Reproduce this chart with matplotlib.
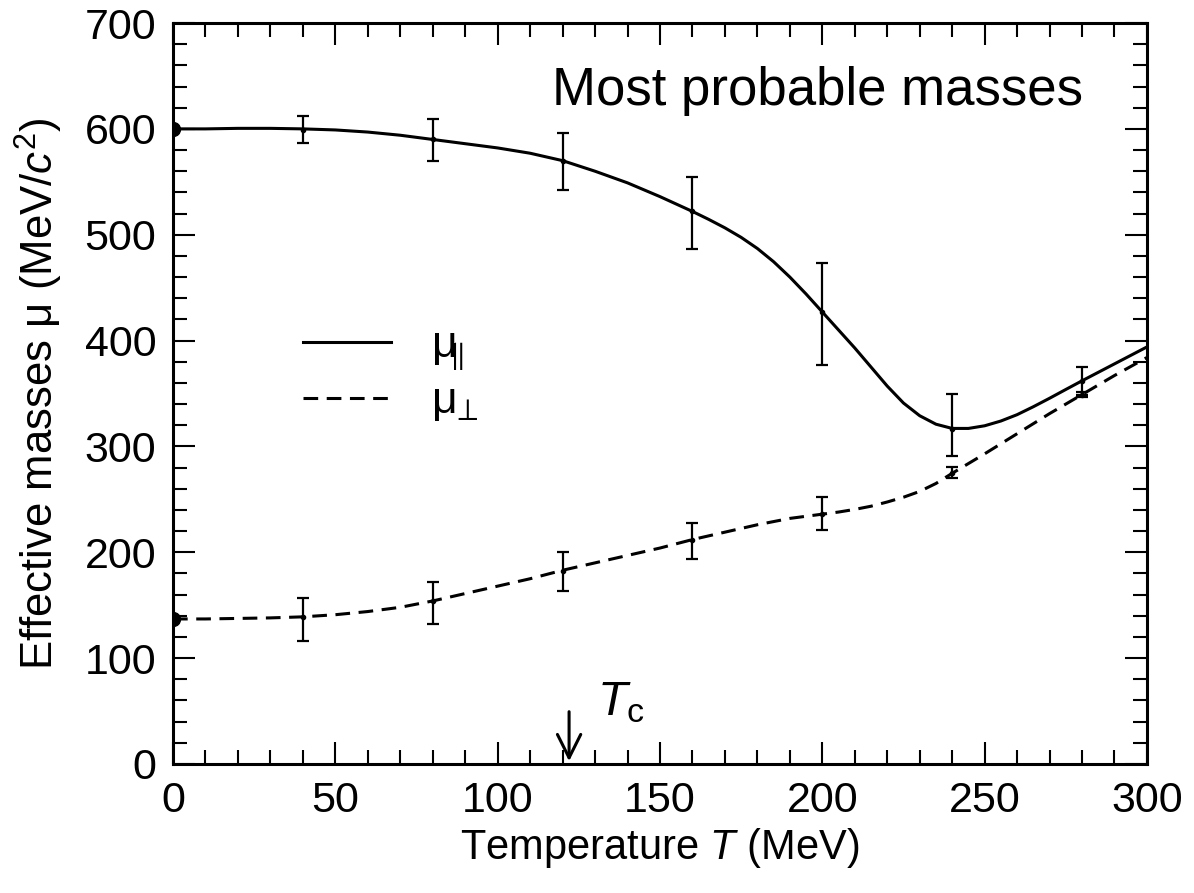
import matplotlib
matplotlib.use('Agg')
import matplotlib.pyplot as plt
from matplotlib.ticker import MultipleLocator

plt.rcParams['font.family'] = ['Liberation Sans', 'DejaVu Sans']
plt.rcParams['mathtext.fontset'] = 'custom'
plt.rcParams['mathtext.rm'] = 'Liberation Sans'
plt.rcParams['mathtext.it'] = 'Liberation Sans:italic'

# data points with error bars (MeV)
T_pts = [40, 80, 120, 160, 200, 240, 280]
par_val = [599, 590, 570, 522, 427, 316.5, 362]
par_lo = [587, 570, 542, 486.5, 377, 291, 349]
par_hi = [612, 609, 596, 554.5, 473, 350, 375]
perp_val = [139, 154, 182.6, 211.6, 236, 274.6, 349]
perp_lo = [116.5, 132, 163.4, 194, 221, 270, 346.5]
perp_hi = [156.5, 172, 200, 227.3, 252, 281, 351.5]

# T = 0 values
T0 = [0, 0]
mu0 = [600, 137]

# smooth curves
T_curve = [0, 10, 20, 30, 40, 50, 60, 70, 80, 90, 100, 110, 120, 130, 140, 150,
           160, 165, 170, 175, 180, 185, 190, 195, 200, 205, 210, 215, 220, 225,
           230, 235, 240, 245, 250, 255, 260, 265, 270, 275, 280, 285, 290, 295, 300]
par_curve = [600, 600, 600.5, 600.5, 600, 599, 597, 594, 590, 586, 582, 577, 570,
             560, 549, 536, 522, 514.5, 506.5, 497.5, 487, 474.5, 460, 444, 427,
             410, 393, 375, 357, 341, 329, 321, 317, 317, 319.5, 324, 330, 337.5,
             345.5, 353.8, 362, 370, 378, 386, 394]
perp_curve = [137, 137, 137.5, 138, 139, 141, 144, 148, 154, 161, 168, 175, 183,
              190, 197, 204, 212, 215.5, 219, 222.5, 226, 229, 232, 234, 236, 238,
              240.5, 243.5, 247.5, 252, 257.5, 265, 274.6, 283.8, 293, 302.5, 312,
              321.5, 331, 340, 349, 358, 367, 375.5, 384]

Tc = 122

fig = plt.figure(figsize=(11.94, 8.93), dpi=100)
ax = fig.add_axes([0.1449, 0.1445, 0.8157, 0.8297])

ax.plot(T_curve, par_curve, color='k', lw=2.2, label=r'$\mathrm{μ}\!\!_{\parallel}$')
ax.plot(T_curve, perp_curve, color='k', lw=2.2, dashes=(4.8, 2.8),
        label=r'$\mathrm{μ}\!_{\perp}$')

for val, lo, hi in [(par_val, par_lo, par_hi), (perp_val, perp_lo, perp_hi)]:
    yerr = [[v - l for v, l in zip(val, lo)], [h - v for v, h in zip(val, hi)]]
    ax.errorbar(T_pts, val, yerr=yerr, fmt='o', ms=3, color='k',
                elinewidth=1.6, capsize=4.5, capthick=1.6)

ax.plot(T0, mu0, 'o', color='k', ms=10, clip_on=True)

# T_c arrow
ax.annotate('', xy=(Tc, 0), xytext=(Tc, 52),
            arrowprops=dict(arrowstyle='->', color='k', lw=2.2, mutation_scale=42))
ax.text(Tc + 8.5, 58, r'$T_{\mathrm{c}}$', fontsize=35, ha='left', va='center')

ax.text(0.934, 0.889, 'Most probable masses', transform=ax.transAxes,
        fontsize=38, ha='right', va='baseline')

ax.set_xlim(0, 300)
ax.set_ylim(0, 700)
ax.xaxis.set_major_locator(MultipleLocator(50))
ax.xaxis.set_minor_locator(MultipleLocator(10))
ax.yaxis.set_major_locator(MultipleLocator(100))
ax.yaxis.set_minor_locator(MultipleLocator(20))
ax.tick_params(which='both', direction='in', top=True, right=True, width=1.5)
ax.tick_params(which='major', length=16, labelsize=31, pad=12)
ax.tick_params(which='minor', length=10)
for sp in ax.spines.values():
    sp.set_linewidth(2.2)

ax.set_xlabel('Temperature $T$ (MeV)', fontsize=30, labelpad=4)
ax.set_ylabel('Effective masses μ (MeV/$c^2$)', fontsize=31.5, labelpad=14)

ax.legend(loc='upper left', bbox_to_anchor=(0.133, 0.592), frameon=False,
          fontsize=32, handlelength=2.0, handletextpad=0.9, labelspacing=0.2,
          borderpad=0, borderaxespad=0)

fig.savefig('out.png', dpi=100)
